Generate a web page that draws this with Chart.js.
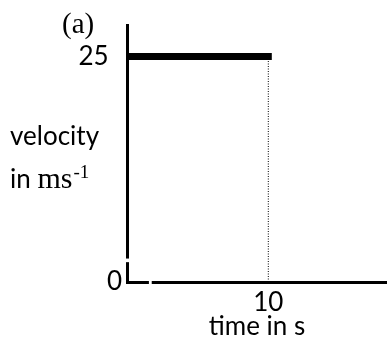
<!DOCTYPE html>
<html>
<head>
<meta charset="utf-8">
<script src="https://cdn.jsdelivr.net/npm/chart.js@4.4.1/dist/chart.umd.min.js"></script>
<style>
  body { margin: 0; background: #fff; }
  #box { width: 387px; height: 340px; position: relative; }
</style>
</head>
<body>
<div id="box"><canvas id="myChart"></canvas></div>
<script>
// data
var times = [0, 10];
var velocity = [25, 25];
var markTime = [10, 10];
var markVel = [0, 25];
var xTicks = [10];
var yTicks = [0, 25];

var sans = "Lato, 'Liberation Sans', sans-serif";
var serif = "'Liberation Serif', 'DejaVu Serif', serif";

// labels + little breaks in the axes
var extras = {
  id: "extras",
  afterDraw: function (chart) {
    var ctx = chart.ctx;
    var xs = chart.scales.x, ys = chart.scales.y;
    var area = chart.chartArea;
    ctx.save();
    ctx.fillStyle = "#fff";
    var gx1 = xs.getPixelForValue(1.55), gx2 = xs.getPixelForValue(1.75);
    ctx.fillRect(gx1, area.bottom - 3, gx2 - gx1, 6);
    var gy1 = ys.getPixelForValue(2.6), gy2 = ys.getPixelForValue(2.2);
    ctx.fillRect(area.left - 3, gy1, 6, gy2 - gy1);

    ctx.fillStyle = "#000";
    ctx.textBaseline = "alphabetic";
    ctx.textAlign = "left";
    ctx.font = "29px " + serif;
    ctx.fillText("(a)", 62, 33);

    ctx.font = "26px " + sans;
    ctx.fillText("velocity", 10, 145);
    ctx.fillText("in ", 10, 188);
    var x = 10 + ctx.measureText("in ").width;
    ctx.font = "30px " + serif;
    ctx.fillText("ms", x, 188);
    x += ctx.measureText("ms").width + 1;
    ctx.font = "19px " + serif;
    ctx.fillText("-1", x, 178);
    ctx.restore();
  }
};

new Chart("myChart", {
  type: "line",
  data: {
    datasets: [
      {
        data: times.map(function (t, i) { return { x: t, y: velocity[i] }; }),
        borderColor: "#000",
        borderWidth: 7,
        borderCapStyle: "square",
        pointRadius: 0,
        fill: false
      },
      {
        data: markTime.map(function (t, i) { return { x: t, y: markVel[i] }; }),
        borderColor: "#000",
        borderWidth: 1,
        borderDash: [1, 1.5],
        pointRadius: 0,
        fill: false
      }
    ]
  },
  options: {
    responsive: true,
    maintainAspectRatio: false,
    animation: false,
    layout: { padding: { top: 25, right: 0, left: 0, bottom: 0 } },
    plugins: {
      legend: { display: false },
      tooltip: { enabled: false }
    },
    scales: {
      x: {
        type: "linear",
        min: 0,
        max: 18.4,
        grid: { display: false, drawTicks: false },
        border: { display: true, color: "#000", width: 3 },
        afterBuildTicks: function (scale) {
          scale.ticks = xTicks.map(function (v) { return { value: v }; });
        },
        afterFit: function (scale) { scale.height = 58; },
        ticks: {
          color: "#000",
          font: { family: sans, size: 26 },
          padding: 5,
          maxRotation: 0,
          autoSkip: false
        },
        title: {
          display: true,
          text: "time in s",
          color: "#000",
          font: { family: sans, size: 26 },
          padding: { top: 0, bottom: -2 }
        }
      },
      y: {
        min: 0,
        max: 28.5,
        grid: { display: false, drawTicks: false },
        border: { display: true, color: "#000", width: 3 },
        afterBuildTicks: function (scale) {
          scale.ticks = yTicks.map(function (v) { return { value: v }; });
        },
        afterFit: function (scale) { scale.width = 127; },
        ticks: {
          color: "#000",
          font: { family: sans, size: 26 },
          padding: 5,
          autoSkip: false,
          callback: function (v) { return v === 25 ? "25  " : String(v); }
        }
      }
    }
  },
  plugins: [extras]
});
</script>
</body>
</html>
